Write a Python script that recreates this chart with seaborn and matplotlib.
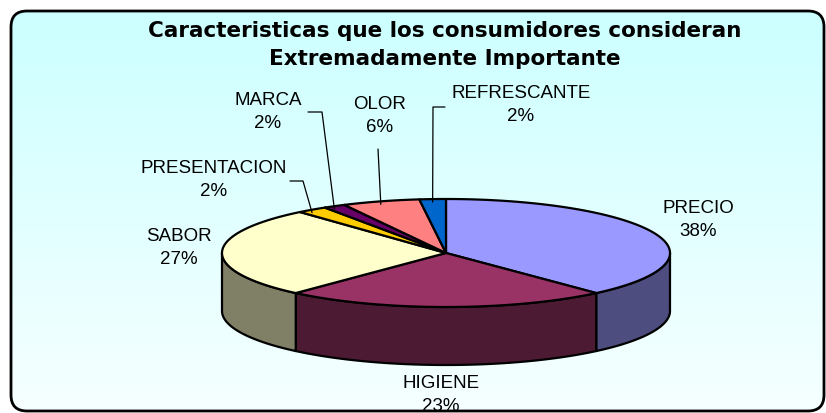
import numpy as np
import matplotlib
matplotlib.use("Agg")
import matplotlib.pyplot as plt
import matplotlib.colors as mcolors
from matplotlib.patches import Polygon, FancyBboxPatch
import seaborn as sns

# data (percent of respondents)
categories = ["PRECIO", "HIGIENE", "SABOR", "PRESENTACION", "MARCA", "OLOR", "REFRESCANTE"]
shares = [38.3, 23.4, 27.0, 2.2, 1.6, 5.6, 1.9]
top_colors = ["#9999FF", "#993366", "#FFFFCC", "#FFCC00", "#660066", "#FF8080", "#0066CC"]
title = "Caracteristicas que los consumidores consideran\nExtremadamente Importante"

# layout, in pixels of the 826x414 canvas
CX, CY, RX, RY, DEPTH = 446, 254, 224, 54, 58
label_xy = [(698, 220), (441, 395), (179, 248), (214, 180), (268, 112), (380, 116), (521, 105)]
elbows = [None, None, None,
          [(290, 182), (303, 182)],
          [(308, 113), (322, 113)],
          [(378, 150)],
          [(445, 108), (433, 108)]]


def rim(t_deg, drop=0.0):
    t = np.radians(t_deg)
    return CX + RX * np.cos(t), CY - RY * np.sin(t) + drop


def arc(a0, a1, drop=0.0):
    n = max(int(abs(a0 - a1) * 2), 2)
    ts = np.linspace(a0, a1, n)
    xs, ys = rim(ts, drop)
    return np.column_stack([xs, ys])


sns.set_theme(style="white")
plt.rcParams["font.family"] = ["Liberation Sans", "DejaVu Sans"]

fig = plt.figure(figsize=(8.26, 4.14), dpi=100)
ax = fig.add_axes([0, 0, 1, 1])
ax.set_xlim(0, 826)
ax.set_ylim(414, 0)
ax.axis("off")

# chart area: rounded frame with a cyan-to-white gradient
frame = FancyBboxPatch((11, 12), 813, 400, boxstyle="round,pad=0,rounding_size=16",
                       fc="none", ec="black", lw=2, zorder=10)
grad = np.linspace(0, 1, 256)[:, None]
top_c = np.array([0.80, 1.0, 1.0])
bot_c = np.array([0.965, 1.0, 1.0])
img = top_c + (bot_c - top_c) * grad[..., None]
bg = ax.imshow(img, extent=(11, 824, 412, 12), aspect="auto", zorder=0)
ax.add_patch(frame)
bg.set_clip_path(frame)

# slice angles, clockwise from 12 o'clock
total = sum(shares)
starts, ends = [], []
a = 90.0
for v in shares:
    starts.append(a)
    a -= 360.0 * v / total
    ends.append(a)

# side walls (only the front half, -180..0 deg, is visible)
for a0, a1, col in zip(starts, ends, top_colors):
    hi, lo = min(a0, 0.0), max(a1, -180.0)
    if hi <= lo:
        continue
    side = tuple(np.array(mcolors.to_rgb(col)) * 0.5)
    pts = np.vstack([arc(hi, lo), arc(lo, hi, DEPTH)])
    ax.add_patch(Polygon(pts, closed=True, fc=side, ec="black", lw=1.6,
                         joinstyle="round", zorder=2))

# top faces
for a0, a1, col in zip(starts, ends, top_colors):
    pts = np.vstack([[CX, CY], arc(a0, a1)])
    ax.add_patch(Polygon(pts, closed=True, fc=col, ec="black", lw=1.6,
                         joinstyle="round", zorder=3))

# data labels and leader lines
for name, v, (lx, ly), elb, a0, a1 in zip(categories, shares, label_xy, elbows, starts, ends):
    ax.text(lx, ly, f"{name}\n{round(100 * v / total)}%", ha="center", va="center",
            fontsize=13.5, linespacing=1.4, color="black", zorder=6)
    if elb:
        ex, ey = rim((a0 + a1) / 2)
        xs = [p[0] for p in elb] + [ex]
        ys = [p[1] for p in elb] + [ey + 3]
        ax.plot(xs, ys, color="black", lw=0.9, zorder=5)

ax.text(445, 45, title, ha="center", va="center", fontsize=15.5, fontweight="bold",
        family="DejaVu Sans", linespacing=1.45, color="black", zorder=6)

fig.savefig("out.png", dpi=100)
